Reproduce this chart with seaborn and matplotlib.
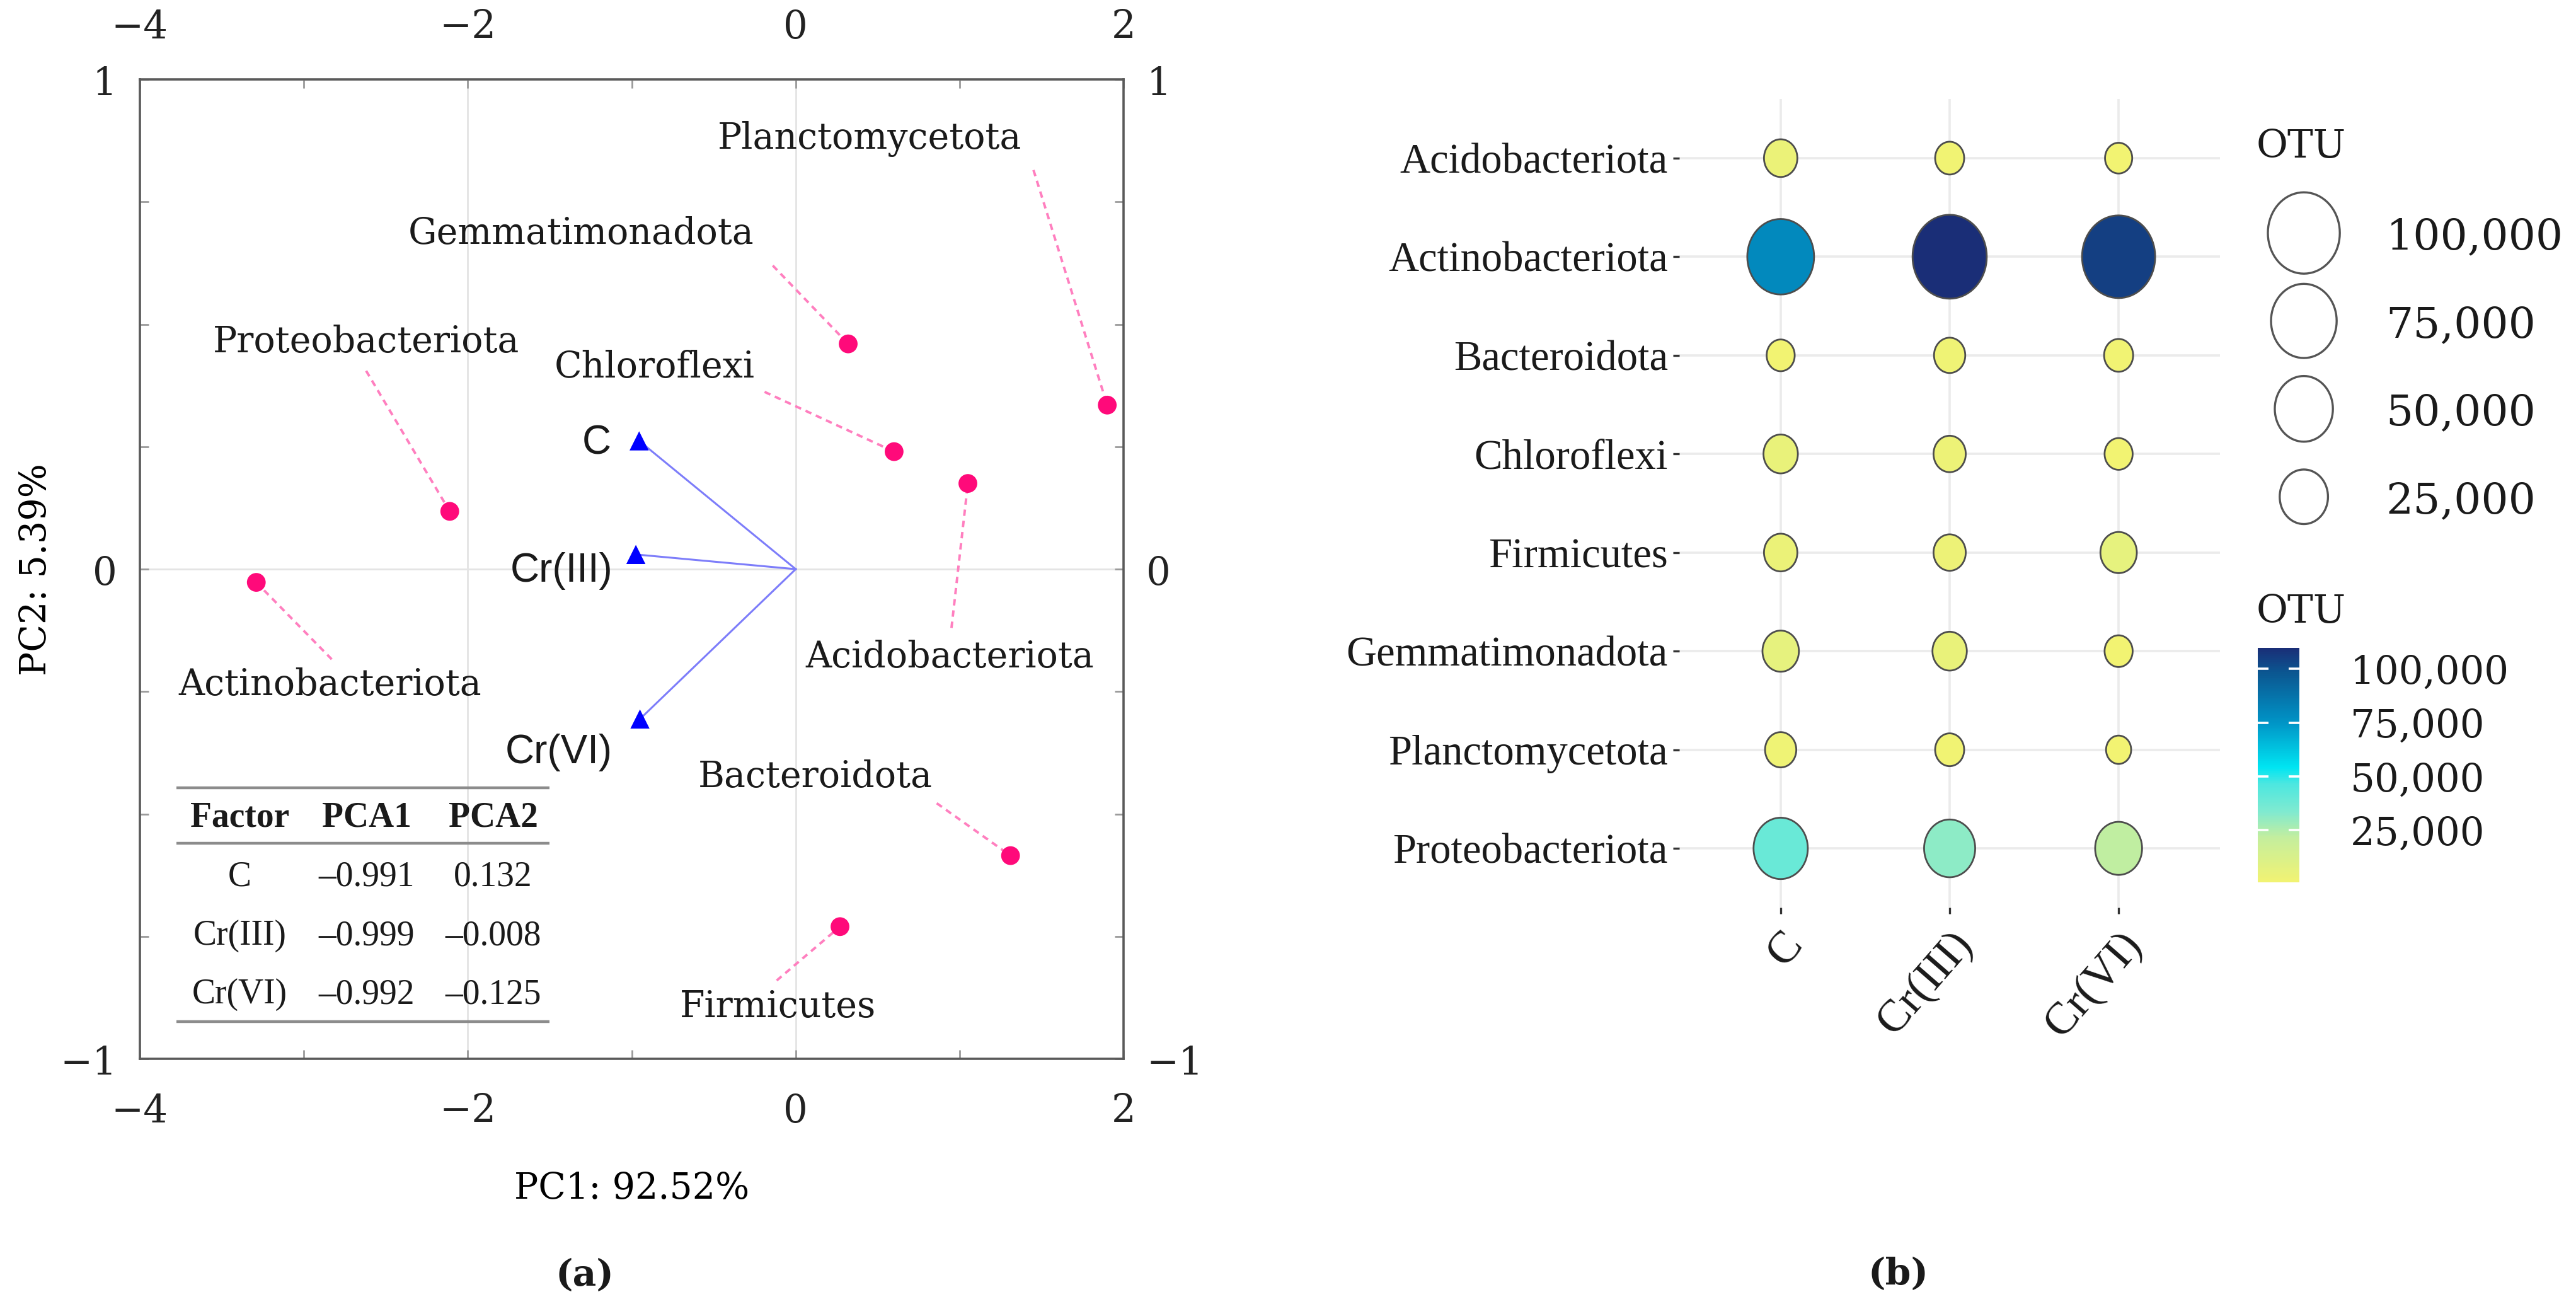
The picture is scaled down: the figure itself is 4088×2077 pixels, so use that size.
import numpy as np
import pandas as pd
import seaborn as sns
import matplotlib
matplotlib.use("Agg")
import matplotlib.pyplot as plt
from matplotlib.colors import LinearSegmentedColormap, Normalize, FuncNorm
from matplotlib.path import Path
from matplotlib.ticker import FixedLocator, MultipleLocator, FuncFormatter

# ---------------- data: panel (a) PCA biplot ----------------
phyla = ["Planctomycetota", "Gemmatimonadota", "Chloroflexi", "Acidobacteriota",
         "Proteobacteriota", "Actinobacteriota", "Bacteroidota", "Firmicutes"]
pc1 = [1.90, 0.32, 0.60, 1.05, -2.11, -3.29, 1.31, 0.27]
pc2 = [0.335, 0.46, 0.24, 0.175, 0.118, -0.027, -0.585, -0.73]

factors = ["C", "Cr(III)", "Cr(VI)"]
load1 = [-0.955, -0.975, -0.950]
load2 = [0.262, 0.030, -0.306]

table_pca1 = ["\u20130.991", "\u20130.999", "\u20130.992"]
table_pca2 = ["0.132", "\u20130.008", "\u20130.125"]

# ---------------- data: panel (b) OTU bubble chart ----------------
taxa = ["Acidobacteriota", "Actinobacteriota", "Bacteroidota", "Chloroflexi",
        "Firmicutes", "Gemmatimonadota", "Planctomycetota", "Proteobacteriota"]
treatments = ["C", "Cr(III)", "Cr(VI)"]
otu_c = [3800, 79300, 1100, 4600, 3800, 6500, 2400, 39200]
otu_cr3 = [1400, 109700, 2400, 3000, 3000, 4600, 1400, 31300]
otu_cr6 = [900, 105000, 1400, 1100, 6500, 1100, 700, 22300]
legend_values = [100000, 75000, 50000, 25000]

# ---------------- layout (text anchors in data units) ----------------
label_xy = {
    "Planctomycetota": (0.45, 0.879), "Gemmatimonadota": (-1.31, 0.685),
    "Chloroflexi": (-0.86, 0.412), "Acidobacteriota": (0.94, -0.18),
    "Proteobacteriota": (-2.62, 0.464), "Actinobacteriota": (-2.84, -0.237),
    "Bacteroidota": (0.12, -0.425), "Firmicutes": (-0.11, -0.895),
}
leader_xy = {
    "Planctomycetota": (1.45, 0.815), "Gemmatimonadota": (-0.14, 0.62),
    "Chloroflexi": (-0.19, 0.362), "Acidobacteriota": (0.95, -0.12),
    "Proteobacteriota": (-2.62, 0.405), "Actinobacteriota": (-2.83, -0.184),
    "Bacteroidota": (0.86, -0.478), "Firmicutes": (-0.116, -0.84),
}
factor_label_xy = [(-1.215, 0.257), (-1.43, -0.004), (-1.445, -0.375)]
table_cols = [-3.39, -2.618, -1.845]
table_rows = [-0.507, -0.629, -0.749, -0.869]
table_rules = [-0.447, -0.560, -0.924]
table_span = (-3.777, -1.502)

SERIF = "DejaVu Serif"
TIMES = "Liberation Serif"
SANS = "Liberation Sans"
plt.rcParams["font.family"] = [SERIF, "DejaVu Sans"]
plt.rcParams["text.color"] = "#1a1a1a"

fig = plt.figure(figsize=(20.44, 10.385), dpi=200)

# ======================= panel (a) =======================
ax = fig.add_axes([0.0543, 0.1911, 0.3819, 0.7482])
ax.set_xlim(-4, 2)
ax.set_ylim(-1, 1)
ax.xaxis.set_major_locator(FixedLocator([-4, -2, 0, 2]))
ax.xaxis.set_minor_locator(FixedLocator([-3, -1, 1]))
ax.yaxis.set_major_locator(FixedLocator([-1, 0, 1]))
ax.yaxis.set_minor_locator(MultipleLocator(0.25))
ax.grid(True, which="major", color="#e4e4e4", lw=1.0, zorder=0)
ax.set_axisbelow(True)
for sp in ax.spines.values():
    sp.set_color("#5a5a5a")
    sp.set_linewidth(1.3)
ax.tick_params(which="both", direction="in", top=True, right=True,
               labeltop=True, labelright=True, length=5, width=1.0,
               color="#9a9a9a", labelsize=22, labelcolor="#222222")
ax.tick_params(axis="x", which="both", pad=19)
ax.tick_params(axis="y", which="both", pad=13)

pca = pd.DataFrame({"phylum": phyla, "PC1": pc1, "PC2": pc2})
load = pd.DataFrame({"factor": factors, "PC1": load1, "PC2": load2})

# dashed leaders
for name, x, y in zip(phyla, pc1, pc2):
    sx, sy = leader_xy[name]
    ax.plot([sx, x], [sy, y], ls=(0, (2.6, 2.0)), color="#ff7fbf", lw=1.4, zorder=2)
    tx, ty = label_xy[name]
    ax.text(tx, ty, name, ha="center", va="center", fontsize=20.5,
            family=SERIF, color="#1a1a1a", zorder=4)

# loading vectors
for x, y in zip(load1, load2):
    ax.plot([0, x], [0, y], color="#7d7dfa", lw=1.1, zorder=2)

sns.scatterplot(data=pca, x="PC1", y="PC2", color="#ff0a7a", s=115,
                edgecolor="none", legend=False, ax=ax, zorder=3)
sns.scatterplot(data=load, x="PC1", y="PC2", color="#0000ff", marker="^", s=120,
                edgecolor="none", legend=False, ax=ax, zorder=3)
for name, (tx, ty) in zip(factors, factor_label_xy):
    ax.text(tx, ty, name, ha="center", va="center", fontsize=23,
            family=SANS, color="#1a1a1a", zorder=4)

# loadings table
for y in table_rules:
    ax.plot(table_span, [y, y], color="#8c8c8c", lw=1.6, zorder=2,
            solid_capstyle="butt")
header = ["Factor", "PCA1", "PCA2"]
for cx, h in zip(table_cols, header):
    ax.text(cx, table_rows[0], h, ha="center", va="center", fontsize=20,
            family=TIMES, weight="bold")
for r, (f, a, b) in enumerate(zip(factors, table_pca1, table_pca2)):
    for cx, s in zip(table_cols, (f, a, b)):
        ax.text(cx, table_rows[r + 1], s, ha="center", va="center",
                fontsize=20, family=TIMES)

ax.set_xlabel("PC1: 92.52%", fontsize=20.5, family=SERIF)
ax.set_ylabel("PC2: 5.39%", fontsize=20.5, family=SERIF)
ax.xaxis.set_label_coords(0.5, -0.1326)
ax.xaxis.label.set_va("center")
ax.yaxis.set_label_coords(-0.1057, 0.5)
ax.yaxis.label.set_va("center")

# ======================= panel (b) =======================
VMIN, VMAX = 700, 109700
H0, H1 = 16.2, 47.9   # marker heights (pt) at the ends of the scale

def _area(v):
    t = np.clip((np.asarray(v, dtype=float) - VMIN) / (VMAX - VMIN), 0, 1)
    return (H0 + (H1 - H0) * np.sqrt(t)) ** 2

def _area_inv(a):
    return VMIN + ((np.sqrt(a) - H0) / (H1 - H0)) ** 2 * (VMAX - VMIN)

size_norm = FuncNorm((_area, _area_inv), vmin=VMIN, vmax=VMAX)
color_norm = Normalize(VMIN, VMAX)
otu_cmap = LinearSegmentedColormap.from_list(
    "otu", [(0.0, "#f2f372"), (0.19, "#c4ee9e"), (0.30, "#80ead0"),
            (0.42, "#4ce7e0"), (0.49, "#00e5f2"), (0.68, "#0095c7"),
            (0.90, "#0b5590"), (1.0, "#1a2e77")])

theta = np.linspace(0, 2 * np.pi, 73)
ellipse = Path(np.column_stack([np.cos(theta) / 1.13, np.sin(theta)]), closed=True)

otu = pd.DataFrame({
    "taxon": np.repeat(taxa, len(treatments)),
    "treatment": treatments * len(taxa),
    "OTU": np.column_stack([otu_c, otu_cr3, otu_cr6]).ravel(),
})

axb = fig.add_axes([0.6519, 0.3067, 0.2099, 0.6177])
sns.scatterplot(data=otu, x="treatment", y="taxon", hue="OTU", size="OTU",
                palette=otu_cmap, hue_norm=color_norm,
                sizes=(H0 ** 2, H1 ** 2), size_norm=size_norm,
                marker=ellipse, edgecolor="#4d4d4d", linewidth=1.0,
                legend=False, ax=axb, zorder=3)
axb.set_xlim(-0.6, 2.6)
axb.set_ylim(len(taxa) - 0.4, -0.6)
axb.grid(True, color="#ebebeb", lw=1.3, zorder=0)
axb.set_axisbelow(True)
for sp in axb.spines.values():
    sp.set_visible(False)
axb.set_xlabel("")
axb.set_ylabel("")
axb.tick_params(axis="y", length=3.5, width=1.2, color="#333333", pad=3,
                labelsize=24, labelcolor="#1a1a1a")
axb.tick_params(axis="x", length=3.5, width=1.2, color="#333333", pad=6,
                labelsize=26, labelcolor="#1a1a1a")
for t in axb.get_yticklabels():
    t.set_family(TIMES)
for t in axb.get_xticklabels():
    t.set_family(TIMES)
    t.set_rotation(49)
    t.set_ha("right")
    t.set_va("top")
    t.set_rotation_mode("anchor")

# size legend
axl = fig.add_axes([0.8699, 0.5869, 0.0489, 0.2687])
leg = pd.DataFrame({"x": [0] * len(legend_values),
                    "label": [f"{v:,}" for v in legend_values],
                    "OTU": legend_values})
sns.scatterplot(data=leg, x="x", y="label", size="OTU",
                sizes=(H0 ** 2, H1 ** 2), size_norm=size_norm,
                marker=ellipse, facecolor="none", edgecolor="#555555",
                linewidth=1.2, legend=False, ax=axl)
axl.set_xlim(-1, 1)
axl.set_ylim(len(legend_values) - 0.5, -0.5)
axl.yaxis.tick_right()
axl.tick_params(axis="y", length=0, pad=11, labelsize=24.5, labelcolor="#1a1a1a")
axl.tick_params(axis="x", length=0, labelbottom=False)
axl.set_xlabel("")
axl.set_ylabel("")
for sp in axl.spines.values():
    sp.set_visible(False)
fig.text(0.8933, 0.8878, "OTU", ha="center", va="center", fontsize=22, family=SERIF)

# colour bar
cax = fig.add_axes([0.8765, 0.3259, 0.01614, 0.1791])
sm = plt.cm.ScalarMappable(norm=color_norm, cmap=otu_cmap)
cb = fig.colorbar(sm, cax=cax, ticks=[25000, 50000, 75000, 100000])
cb.outline.set_visible(False)
cax.yaxis.set_major_formatter(FuncFormatter(lambda v, p: f"{int(v):,}"))
cax.tick_params(axis="y", direction="in", left=True, right=True, length=6,
                width=1.3, color="white", pad=29, labelsize=22,
                labelcolor="#1a1a1a")
fig.text(0.8933, 0.5325, "OTU", ha="center", va="center", fontsize=22, family=SERIF)

# panel tags
fig.text(0.227, 0.0255, "(a)", ha="center", va="center", fontsize=21,
         weight="bold", family=SERIF)
fig.text(0.737, 0.0265, "(b)", ha="center", va="center", fontsize=21,
         weight="bold", family=SERIF)

fig.savefig("out.png", dpi=200)
